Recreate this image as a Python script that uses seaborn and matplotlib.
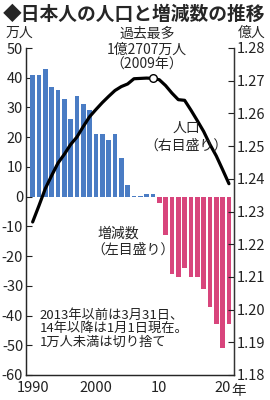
import numpy as np
import pandas as pd
import seaborn as sns
import matplotlib.pyplot as plt

# 年
years = list(range(1990, 2022))
# 増減数（万人）
changes = [41, 41, 43, 37, 36, 33, 26, 34, 31, 29,
           21, 21, 19, 21, 13, 4, 0.3, 0.2, 1, 1,
           -2, -13, -26, -27, -24, -27, -27, -31, -37, -43,
           -51, -43]
# 人口（億人）
population = [1.2268, 1.2318, 1.2370, 1.2410, 1.2448, 1.2475, 1.2505, 1.2528, 1.2560, 1.2590,
              1.2612, 1.2633, 1.2652, 1.2670, 1.2682, 1.2690, 1.2706, 1.2707, 1.2708, 1.2707,
              1.2703, 1.2685, 1.2662, 1.2642, 1.2640, 1.2610, 1.2578, 1.2545, 1.2505, 1.2470,
              1.2428, 1.2385]
peak_year = 2009
peak_value = 1.2707

left_ticks = list(range(-60, 51, 10))
right_ticks = [1.18, 1.19, 1.20, 1.21, 1.22, 1.23, 1.24, 1.25, 1.26, 1.27, 1.28]
x_ticks = [1990, 2000, 2010, 2020]
x_labels = ["1990", "2000", "10", "20"]

df = pd.DataFrame({"year": years, "change": changes, "pop": population})
df["sign"] = np.where(df["change"] >= 0, "plus", "minus")
df["pos"] = df["year"] - years[0]   # 棒の位置（カテゴリ番号）

sns.set_style("white")
plt.rcParams["font.family"] = ["Noto Sans CJK JP", "DejaVu Sans"]

fig = plt.figure(figsize=(2.7, 4.0), dpi=100)
ax = fig.add_axes([0.0963, 0.0625, 0.7704, 0.8175])

blue = "#4a7cc4"
pink = "#d8457c"
sns.barplot(data=df, x="year", y="change", hue="sign", dodge=False,
            palette={"plus": blue, "minus": pink}, width=0.74, legend=False,
            saturation=1, linewidth=0, edgecolor="none", ax=ax)

ax.set_xlim(-1.05, len(years) - 0.2)
ax.set_ylim(-60, 50)
ax.set_yticks(left_ticks)
ax.set_yticklabels([str(t) for t in left_ticks])
ax.set_xticks([y - years[0] for y in x_ticks])
ax.set_xticklabels(x_labels)
ax.set_xticks(df["pos"].tolist(), minor=True)
ax.set_xlabel("")
ax.set_ylabel("")
for s in ["left", "bottom", "right"]:
    ax.spines[s].set_color("#333333")
    ax.spines[s].set_linewidth(1.0)
ax.spines["top"].set_visible(False)
ax.tick_params(axis="both", which="major", direction="in", length=4, width=0.8,
               labelsize=10.5, colors="#222222", pad=2)
ax.tick_params(axis="x", which="minor", direction="in", length=3, width=0.7, colors="#333333")
ax.tick_params(axis="x", which="major", pad=4)

ax2 = ax.twinx()
sns.lineplot(data=df, x="pos", y="pop", color="black", linewidth=2.3, ax=ax2)
ax2.plot([peak_year - years[0]], [peak_value], marker="o", markersize=5.5,
         markerfacecolor="white", markeredgecolor="black", markeredgewidth=1.0, zorder=5)
ax2.set_ylim(1.18, 1.28)
ax2.set_yticks(right_ticks)
ax2.set_yticklabels([f"{t:.2f}" for t in right_ticks])
ax2.set_ylabel("")
ax2.set_xlabel("")
ax2.spines["top"].set_visible(False)
ax2.spines["right"].set_color("#333333")
ax2.tick_params(axis="y", direction="in", length=4, width=0.8, labelsize=10.5,
                colors="#222222", pad=2)
ax.set_xlim(-1.05, len(years) - 0.2)

# タイトル・単位
fig.text(0.01, 0.965, "◆日本人の人口と増減数の推移", fontsize=13.5, fontweight="bold",
         va="center", ha="left")
fig.text(0.02, 0.918, "万人", fontsize=10, va="center", ha="left")
fig.text(0.985, 0.918, "億人", fontsize=10, va="center", ha="right")
fig.text(0.856, 0.023, "年", fontsize=10.5, va="center", ha="left")

# 注記
fig.text(0.545, 0.915, "過去最多", fontsize=10, ha="center", va="center")
fig.text(0.545, 0.876, "1億2707万人", fontsize=10, ha="center", va="center")
fig.text(0.545, 0.838, "（2009年）", fontsize=10, ha="center", va="center")
fig.text(0.69, 0.68, "人口", fontsize=10, ha="center", va="center")
fig.text(0.69, 0.637, "（右目盛り）", fontsize=10, ha="center", va="center")
fig.text(0.36, 0.417, "増減数", fontsize=10, ha="left", va="center")
fig.text(0.34, 0.377, "（左目盛り）", fontsize=10, ha="left", va="center")
fig.text(0.148, 0.178, "2013年以前は3月31日、\n14年以降は1月1日現在。\n1万人未満は切り捨て",
         fontsize=9.5, ha="left", va="center", linespacing=1.05, color="#222222")

fig.savefig("out.png", dpi=100)
